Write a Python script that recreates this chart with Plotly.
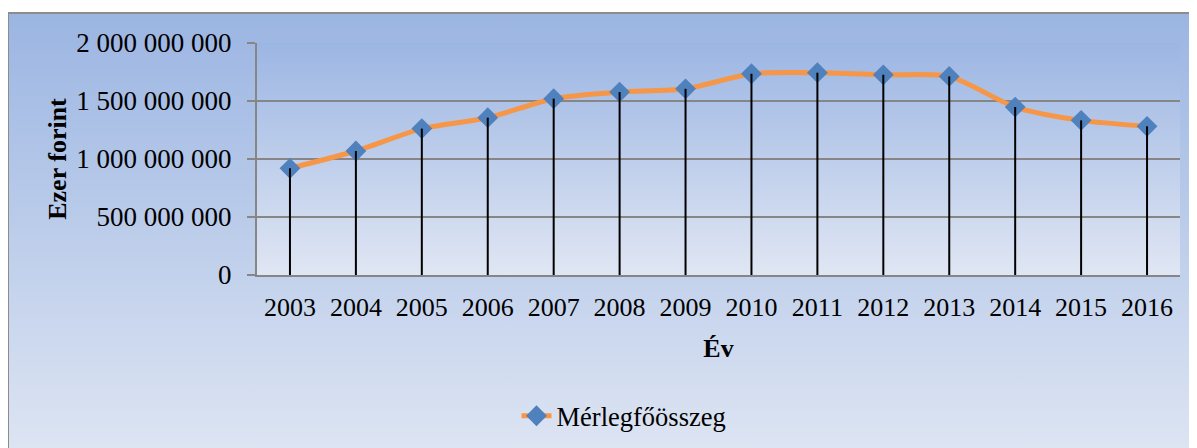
import base64
import plotly.graph_objects as go

# adatok
evek = ["2003", "2004", "2005", "2006", "2007", "2008", "2009",
        "2010", "2011", "2012", "2013", "2014", "2015", "2016"]
merlegfoosszeg = [920e6, 1069e6, 1262e6, 1356e6, 1520e6, 1577e6, 1605e6,
                  1735e6, 1744e6, 1726e6, 1712e6, 1448e6, 1333e6, 1282e6]
sorozat_nev = "Mérlegfőösszeg"

# képernyő-pixelek (a body 8px-es margója miatt eltolva)
OFF = 8
W, H = 1197, 448
L, R, T, B = 257 - OFF, 1180 - OFF, 43 - OFF, 275 - OFF


def px_x(px):
    return (px - OFF - L) / (R - L)


def px_y(py):
    return (B - (py - OFF)) / (B - T)


def gradient(c1, c2):
    svg = ('<svg xmlns="http://www.w3.org/2000/svg" width="10" height="100" '
           'viewBox="0 0 10 100" preserveAspectRatio="none"><defs>'
           '<linearGradient id="g" x1="0" y1="0" x2="0" y2="1">'
           f'<stop offset="0" stop-color="{c1}"/><stop offset="1" stop-color="{c2}"/>'
           '</linearGradient></defs><rect width="10" height="100" fill="url(#g)"/></svg>')
    return "data:image/svg+xml;base64," + base64.b64encode(svg.encode()).decode()


font = "Liberation Serif, Times New Roman, serif"

fig = go.Figure()
fig.add_trace(go.Scatter(
    x=evek, y=merlegfoosszeg, name=sorozat_nev, mode="lines+markers",
    line=dict(color="#F79646", width=5, shape="spline", smoothing=0.7),
    marker=dict(symbol="diamond", size=16, color="#4F81BD"),
))
# függőleges vonalak (drop lines)
fig.add_trace(go.Scatter(
    x=evek, y=merlegfoosszeg, mode="markers", showlegend=False, hoverinfo="skip",
    marker=dict(size=1, opacity=0),
    error_y=dict(type="data", symmetric=False, array=[0] * len(evek),
                 arrayminus=merlegfoosszeg, width=0, thickness=2, color="black"),
))

top_outer = 13
fig.add_layout_image(dict(
    source=gradient("#9BB5E2", "#DFE6F3"), xref="paper", yref="paper",
    x=px_x(8), y=px_y(top_outer), sizex=px_x(W + 20) - px_x(8),
    sizey=px_y(top_outer) - px_y(462), xanchor="left", yanchor="top",
    sizing="stretch", layer="below"))
fig.add_layout_image(dict(
    source=gradient("#9CB6E3", "#E0E6F3"), xref="paper", yref="paper",
    x=0, y=1, sizex=1, sizey=1, xanchor="left", yanchor="top",
    sizing="stretch", layer="below"))
fig.add_shape(type="rect", xref="paper", yref="paper",
              x0=px_x(8), x1=px_x(W + 20), y0=px_y(top_outer), y1=px_y(480),
              line=dict(color="#8C8C8C", width=2), fillcolor="rgba(0,0,0,0)", layer="below")

fig.update_layout(
    width=W, height=H,
    margin=dict(l=L, r=W - R, t=T, b=H - B),
    paper_bgcolor="white", plot_bgcolor="rgba(0,0,0,0)",
    font=dict(family=font, size=26, color="black"),
    separators=", ",
    showlegend=True,
    legend=dict(orientation="h", x=px_x(624), y=px_y(416), xanchor="center",
                yanchor="middle", bgcolor="rgba(0,0,0,0)", font=dict(size=26.5)),
)
fig.update_xaxes(
    type="category", range=[-0.5, len(evek) - 0.5], showgrid=False,
    showline=True, linecolor="#868686", linewidth=2, ticks="",
    ticklabelstandoff=8, automargin=False,
    title=dict(text="<b>Év</b>", standoff=18, font=dict(size=26)),
)
fig.update_yaxes(
    range=[0, 2e9], tickvals=[0, 5e8, 1e9, 1.5e9, 2e9], tickformat=",.0f",
    tickfont=dict(size=27),
    showgrid=True, gridcolor="#868686", gridwidth=1.5,
    showline=True, linecolor="#868686", linewidth=2,
    ticks="outside", ticklen=8, tickcolor="#868686", tickwidth=1.5,
    ticklabelstandoff=10, zeroline=False, automargin=False,
    title=dict(text="<b>Ezer forint</b>", standoff=2, font=dict(size=26)),
)

fig.write_html("out.html")
